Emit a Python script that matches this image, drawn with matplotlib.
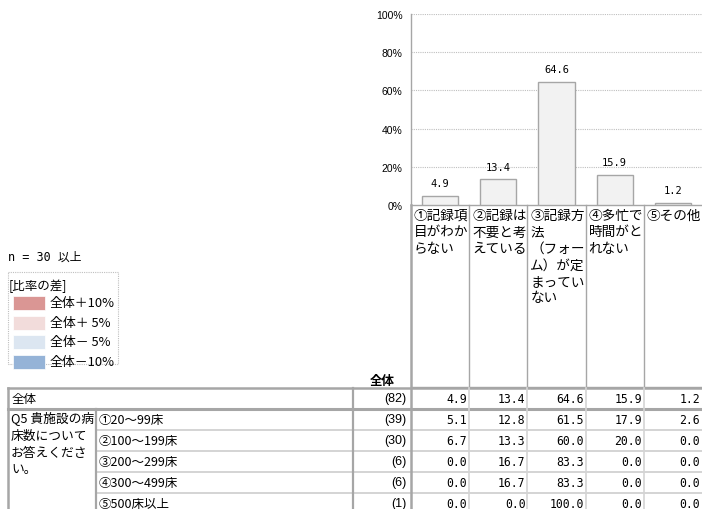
import matplotlib
matplotlib.use("Agg")
import matplotlib.pyplot as plt
from matplotlib.patches import Rectangle

plt.rcParams['font.family'] = ['Noto Sans CJK JP', 'DejaVu Sans']

# ---- data ----
categories = ["①記録項\n目がわか\nらない", "②記録は\n不要と考\nえている",
              "③記録方\n法\n（フォー\nム）が定\nまってい\nない",
              "④多忙で\n時間がと\nれない", "⑤その他"]
overall = [4.9, 13.4, 64.6, 15.9, 1.2]
yticks = [0, 20, 40, 60, 80, 100]
ytick_labels = ["0%", "20%", "40%", "60%", "80%", "100%"]

row_labels = ["全体", "①20～99床", "②100～199床", "③200～299床", "④300～499床", "⑤500床以上"]
row_n = [82, 39, 30, 6, 6, 1]
row_values = [
    [4.9, 13.4, 64.6, 15.9, 1.2],
    [5.1, 12.8, 61.5, 17.9, 2.6],
    [6.7, 13.3, 60.0, 20.0, 0.0],
    [0.0, 16.7, 83.3, 0.0, 0.0],
    [0.0, 16.7, 83.3, 0.0, 0.0],
    [0.0, 0.0, 100.0, 0.0, 0.0],
]
group_label = "Q5 貴施設の病\n床数について\nお答えくださ\nい。"
legend_title = "[比率の差]"
legend_labels = ["全体＋10%", "全体＋ 5%", "全体－ 5%", "全体－10%"]
legend_colors = ["#da9694", "#f2dcdb", "#dce6f1", "#95b3d7"]
n_note = "n = 30 以上"

W, H = 702, 510
fig = plt.figure(figsize=(W / 100, H / 100), dpi=100)
ax0 = fig.add_axes([0, 0, 1, 1])
ax0.set_xlim(0, W)
ax0.set_ylim(H, 0)
ax0.axis("off")

DARK = "#a6a6a6"
LIGHT = "#d4d4d4"
MONO = ["DejaVu Sans Mono", "Noto Sans CJK JP"]

# ---- bar chart ----
x_left, x_right = 411, 702
y_top, y_zero = 15, 206
axb = fig.add_axes([x_left / W, 1 - y_zero / H, (x_right - x_left) / W, (y_zero - y_top) / H])
axb.set_xlim(0, len(categories))
axb.set_ylim(0, 100)
axb.patch.set_alpha(0)
for s in ["top", "right", "bottom"]:
    axb.spines[s].set_visible(False)
axb.spines["left"].set_color(DARK)
axb.spines["left"].set_linewidth(1.0)
axb.set_yticks(yticks)
axb.set_yticklabels(ytick_labels, family=["Liberation Sans"], fontsize=7.5)
axb.tick_params(axis="y", length=0, pad=6)
axb.set_xticks([])
for t in yticks[1:]:
    axb.axhline(t, color="#bfbfbf", lw=0.8, ls=(0, (1, 1)), zorder=0)
xs = [i + 0.5 for i in range(len(categories))]
axb.bar(xs, overall, width=0.62, color="#f2f2f2", edgecolor=DARK, linewidth=1.0, zorder=2)
for x, v in zip(xs, overall):
    axb.text(x, v + 4, f"{v:.1f}", ha="center", va="bottom", fontsize=7.5,
             family=["DejaVu Sans Mono"])

# ---- header box ----
col_w = (x_right - x_left) / len(categories)
hdr_top, hdr_bot = 206, 388
ax0.plot([x_left, x_right], [hdr_top, hdr_top], color=DARK, lw=1.0)
ax0.plot([x_left, x_right], [hdr_bot, hdr_bot], color=DARK, lw=1.0)
for i in range(1, len(categories)):
    xc = x_left + i * col_w
    ax0.plot([xc, xc], [hdr_top, hdr_bot], color=DARK, lw=1.0)
for i, c in enumerate(categories):
    ax0.text(x_left + i * col_w + 3, hdr_top + 3, c, ha="left", va="top",
             fontsize=9.8, linespacing=1.22)

# ---- table ----
t_left = 8
c_group = 96
c_label = 353
row_tops = [389, 410, 431, 452, 473, 494, 515]

ax0.text(382, 382, "全体", ha="center", va="center", fontsize=9, fontweight="bold")

# horizontal lines
ax0.plot([t_left, x_right], [row_tops[0], row_tops[0]], color=DARK, lw=1.8)
ax0.plot([t_left, x_right], [row_tops[1], row_tops[1]], color=DARK, lw=2.2)
for yt in row_tops[2:6]:
    ax0.plot([c_group, x_right], [yt, yt], color=LIGHT, lw=1.4)
# vertical lines
ax0.plot([t_left, t_left], [row_tops[0], H], color=DARK, lw=1.8)
ax0.plot([c_group, c_group], [row_tops[1], H], color=DARK, lw=1.6)
ax0.plot([c_label, c_label], [row_tops[0], H], color=DARK, lw=1.6)
ax0.plot([x_left, x_left], [hdr_top, H], color=DARK, lw=1.8)
for i in range(1, len(categories)):
    xc = x_left + i * col_w
    ax0.plot([xc, xc], [row_tops[0], H], color=LIGHT, lw=1.2)

for r, (lab, n, vals) in enumerate(zip(row_labels, row_n, row_values)):
    yc = (row_tops[r] + row_tops[r + 1]) / 2
    lx = t_left + 4 if r == 0 else c_group + 3
    ax0.text(lx, yc, lab, ha="left", va="center", fontsize=9)
    ax0.text(x_left - 5, yc, f"({n})", ha="right", va="center", fontsize=9,
             family=["Liberation Sans"])
    for i, v in enumerate(vals):
        ax0.text(x_left + (i + 1) * col_w - 2, yc, f"{v:.1f}", ha="right", va="center",
                 fontsize=8.3, family=["DejaVu Sans Mono"])

ax0.text(t_left + 3, row_tops[1] + 2, group_label, ha="left", va="top", fontsize=9.2,
         linespacing=1.38)

# ---- legend ----
ax0.text(8, 257, n_note, ha="left", va="center", fontsize=8.5, family=MONO)
ax0.add_patch(Rectangle((8, 273), 110, 92, fill=False, edgecolor="#bfbfbf",
                        lw=0.8, ls=(0, (1, 1))))
ax0.text(9, 286, legend_title, ha="left", va="center", fontsize=9)
for k, (lab, col) in enumerate(zip(legend_labels, legend_colors)):
    yc = 304 + k * 19.5
    ax0.add_patch(Rectangle((13, yc - 7), 32, 14, facecolor=col, edgecolor="white", lw=0.5))
    ax0.text(50, yc, lab, ha="left", va="center", fontsize=9.3)

fig.savefig("out.png", dpi=100)
